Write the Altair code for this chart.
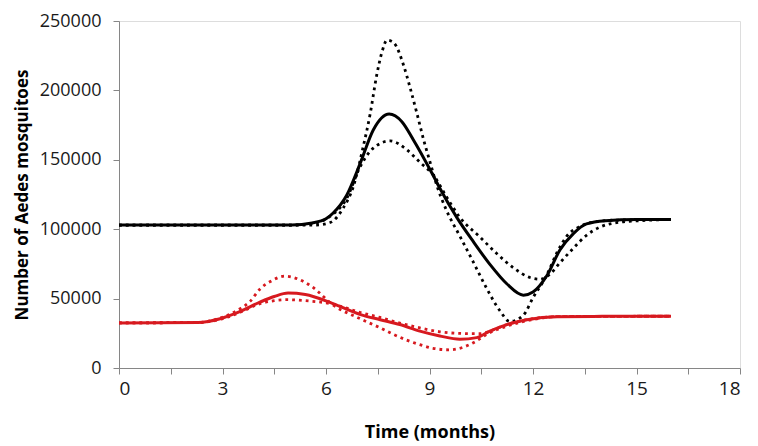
import altair as alt
import pandas as pd

# ---- data ----
black_solid_t = [0, 5.0, 5.6, 6.0, 6.2, 6.6, 7.0, 7.37, 7.83, 8.2, 8.53, 9.1, 9.3, 9.79, 10.27, 10.75,
                 11.24, 11.72, 12.0, 12.4, 12.78, 13.17, 13.55, 14.1, 15.0, 16.0]
black_solid_n = [103000, 103000, 104500, 107500, 111500, 124500, 148000, 171500, 183000, 177500, 164500,
                 139000, 129500, 108500, 91000, 74700, 60700, 52500, 54800, 66500, 85000, 96800, 103800,
                 106100, 107000, 107000]

black_hi_t = [0, 5.0, 5.7, 6.12, 6.5, 6.79, 7.08, 7.28, 7.47, 7.62, 7.77, 7.96, 8.25, 8.44, 8.64, 8.83,
              9.02, 9.21, 9.49, 9.88, 10.27, 10.65, 11.04, 11.33, 11.72, 12.0, 12.4, 12.7, 12.98, 13.36,
              13.85, 14.5, 16.0]
black_hi_n = [103000, 103000, 103000, 104800, 115300, 130600, 159600, 183000, 211000, 227400, 236200,
              234400, 218000, 201700, 183000, 164400, 148000, 131700, 113700, 95000, 76300, 57700, 41300,
              33500, 38000, 50600, 67000, 83400, 95000, 102000, 105500, 106600, 107000]

black_lo_t = [0, 5.0, 5.6, 6.1, 6.6, 6.99, 7.37, 7.86, 8.34, 8.73, 9.12, 9.5, 9.88, 10.46, 10.94, 11.43,
              11.91, 12.2, 12.49, 12.78, 13.17, 13.55, 13.94, 14.5, 15.07, 16.0]
black_lo_n = [103000, 103000, 104000, 109000, 122200, 145000, 158400, 163600, 157300, 148000, 138700,
              123000, 108500, 94400, 82700, 72200, 65200, 64000, 67600, 75800, 86300, 95600, 101500,
              105000, 106100, 107000]

red_solid_t = [0, 2.3, 2.93, 3.5, 4.1, 4.5, 4.9, 5.4, 6.2, 7.0, 7.57, 8.14, 8.72, 9.3, 9.88, 10.37,
               10.75, 11.24, 11.82, 12.7, 14.0, 16.0]
red_solid_n = [32500, 32800, 35500, 40600, 47600, 51500, 54000, 53000, 46400, 38500, 34800, 31300, 26600,
               23100, 20800, 21900, 26600, 31300, 34800, 37000, 37200, 37300]

red_hi_t = [0, 2.3, 2.93, 3.5, 3.8, 4.09, 4.4, 4.81, 5.2, 5.6, 6.21, 6.99, 7.57, 7.95, 8.34, 8.72, 9.1,
            9.59, 9.98, 10.37, 10.66, 11.24, 11.9, 12.7, 14.0, 16.0]
red_hi_n = [32500, 32800, 36000, 42500, 48000, 57000, 62500, 66200, 64000, 58500, 45300, 35500, 28900,
            24300, 20100, 16800, 14200, 13100, 15000, 19600, 24300, 30100, 34500, 37000, 37200, 37300]

red_lo_t = [0, 2.3, 2.93, 3.5, 4.09, 4.5, 4.86, 5.4, 6.2, 7.0, 7.57, 8.14, 8.72, 9.3, 9.88, 10.46,
            10.75, 11.24, 11.82, 12.7, 14.0, 16.0]
red_lo_n = [32500, 32800, 35000, 40000, 46400, 48500, 49200, 48500, 46000, 40000, 36400, 32400, 28900,
            26100, 24900, 24700, 26600, 31300, 34800, 37000, 37200, 37300]

x_ticks = [0, 1.5, 3, 4.5, 6, 7.5, 9, 10.5, 12, 13.5, 15, 16.5, 18]
y_ticks = [0, 50000, 100000, 150000, 200000, 250000]


def frame(name, group, ts, ns):
    return pd.DataFrame({"t": ts, "n": ns, "series": name, "group": group})


solid_df = pd.concat([
    frame("black_solid", "black", black_solid_t, black_solid_n),
    frame("red_solid", "red", red_solid_t, red_solid_n),
])
dotted_df = pd.concat([
    frame("black_hi", "black", black_hi_t, black_hi_n),
    frame("black_lo", "black", black_lo_t, black_lo_n),
    frame("red_hi", "red", red_hi_t, red_hi_n),
    frame("red_lo", "red", red_lo_t, red_lo_n),
])

FONT = "Open Sans"
AXIS_GREY = "#868686"
PLOT_H = 347

x_enc = alt.X(
    "t:Q",
    scale=alt.Scale(domain=[0, 18], nice=False, zero=False),
    axis=alt.Axis(
        values=x_ticks,
        labelExpr="datum.value % 3 === 0 ? datum.label : ''",
        grid=False, tickSize=6, labelPadding=5, tickColor=AXIS_GREY, domainColor=AXIS_GREY,
        labelFont=FONT, labelFontSize=19, labelColor="#1a1a1a",
        title="Time (months)", titleFont=FONT, titleFontSize=18, titleFontWeight="bold",
        titleColor="#000000", titleY=64, titleBaseline="middle",
    ),
)
y_enc = alt.Y(
    "n:Q",
    scale=alt.Scale(domain=[0, 250000], nice=False),
    axis=alt.Axis(
        values=y_ticks, format="d",
        grid=False, tickSize=6, labelPadding=12, tickColor=AXIS_GREY, domainColor=AXIS_GREY,
        labelFont=FONT, labelFontSize=18, labelColor="#1a1a1a",
        title="Number of Aedes mosquitoes", titleFont=FONT, titleFontSize=17,
        titleFontWeight="bold", titleColor="#000000",
        titleX=-97, titleY=PLOT_H / 2, titleAngle=270, titleBaseline="middle", titleAlign="center",
    ),
)
color_enc = alt.Color(
    "group:N",
    scale=alt.Scale(domain=["black", "red"], range=["#000000", "#D7191F"]),
    legend=None,
)

dotted = alt.Chart(dotted_df).mark_line(
    interpolate="monotone", strokeWidth=2.8, strokeDash=[2.8, 4]
).encode(x=x_enc, y=y_enc, color=color_enc, detail="series:N", order="t:Q")

solid = alt.Chart(solid_df).mark_line(
    interpolate="monotone", strokeWidth=3
).encode(x=x_enc, y=y_enc, color=color_enc, detail="series:N", order="t:Q")

chart = alt.layer(dotted, solid).properties(
    width=621, height=PLOT_H,
    autosize=alt.AutoSizeParams(type="none"),
    padding={"left": 111, "top": 13, "right": 10, "bottom": 75},
).configure_view(stroke=None).configure(background="white")

chart.save("out.html", embed_options={"renderer": "svg", "actions": False})
